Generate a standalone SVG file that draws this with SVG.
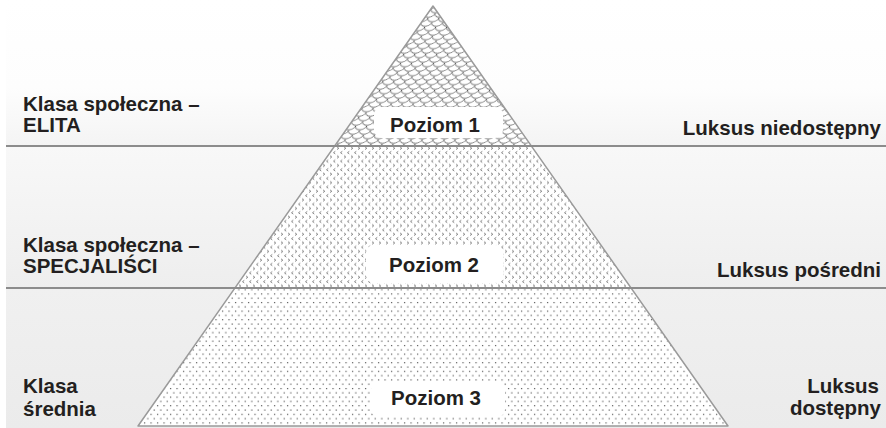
<svg xmlns="http://www.w3.org/2000/svg" width="886" height="428" viewBox="0 0 886 428">
  <defs>
    <style>
      .lbl { font-family: "Liberation Sans", Arial, sans-serif; font-weight: bold; font-size: 20.5px; fill: #231f20; }
      .end { text-anchor: end; }
      .mid { text-anchor: middle; }
      .divider { stroke: #8c8c8c; stroke-width: 2; fill: none; }
      .edge { stroke: #9a9a9a; stroke-width: 1.5; fill: none; stroke-linejoin: round; }
      .box { fill: #ffffff; }
    </style>
    <linearGradient id="band1" x1="0" y1="0" x2="0" y2="1">
      <stop offset="0" stop-color="#ffffff"/>
      <stop offset="0.6" stop-color="#fdfdfd"/>
      <stop offset="1" stop-color="#f4f4f4"/>
    </linearGradient>
    <linearGradient id="band2" x1="0" y1="0" x2="0" y2="1">
      <stop offset="0" stop-color="#f8f8f8"/>
      <stop offset="1" stop-color="#eeeeee"/>
    </linearGradient>
    <linearGradient id="band3" x1="0" y1="0" x2="0" y2="1">
      <stop offset="0" stop-color="#f0f0f0"/>
      <stop offset="1" stop-color="#ebebeb"/>
    </linearGradient>
    <!-- roof-tile scales for the top tier -->
    <pattern id="scales" width="11" height="9" patternUnits="userSpaceOnUse" patternTransform="skewX(-20)">
      <rect width="11" height="9" fill="#ffffff"/>
      <path d="M0,4.5 a5.5,3.8 0 0 0 11,0 M-5.5,9 a5.5,3.8 0 0 0 11,0 M5.5,9 a5.5,3.8 0 0 0 11,0 M-5.5,0 a5.5,3.8 0 0 0 11,0 M5.5,0 a5.5,3.8 0 0 0 11,0" fill="none" stroke="#3a3a3a" stroke-width="0.7"/>
    </pattern>
    <!-- small chevron marks for the middle tier -->
    <pattern id="chevrons" width="7" height="8.6" patternUnits="userSpaceOnUse">
      <rect width="7" height="8.6" fill="#ffffff"/>
      <path d="M1,0.8 l1.8,1.3 l-1.8,1.3 M6.3,5.1 l-1.8,1.3 l1.8,1.3" fill="none" stroke="#444444" stroke-width="0.65"/>
    </pattern>
    <!-- staggered dot grid for the bottom tier -->
    <pattern id="dots" width="6.5" height="8.6" patternUnits="userSpaceOnUse">
      <rect width="6.5" height="8.6" fill="#ffffff"/>
      <rect x="1" y="1" width="1.1" height="1.1" fill="#3a3a3a"/>
      <rect x="4.25" y="5.3" width="1.1" height="1.1" fill="#3a3a3a"/>
    </pattern>
  </defs>

  <!-- background bands -->
  <g id="bands">
    <rect x="0" y="0" width="886" height="428" fill="#ffffff"/>
    <rect x="6" y="0" width="880" height="146" fill="url(#band1)"/>
    <rect x="6" y="146" width="880" height="142" fill="url(#band2)"/>
    <rect x="6" y="288" width="880" height="140" fill="url(#band3)"/>
  </g>

  <!-- tier 1 -->
  <g id="level1">
    <polygon points="433,6 531.4,146 334.6,146" fill="url(#scales)"/>
    <rect class="box" x="374" y="107" width="129" height="31" rx="8"/>
    <text class="lbl mid" x="435" y="132">Poziom 1</text>
  </g>

  <!-- tier 2 -->
  <g id="level2">
    <polygon points="334.6,146 531.4,146 631.2,288 234.8,288" fill="url(#chevrons)"/>
    <rect class="box" x="366" y="245" width="137" height="38" rx="8"/>
    <text class="lbl mid" x="434" y="272">Poziom 2</text>
  </g>

  <!-- tier 3 -->
  <g id="level3">
    <polygon points="234.8,288 631.2,288 728,426 138,426" fill="url(#dots)"/>
    <rect class="box" x="371" y="381" width="134" height="36" rx="8"/>
    <text class="lbl mid" x="436" y="405">Poziom 3</text>
  </g>

  <!-- pyramid outline and tier dividers -->
  <g id="connectors">
    <polygon class="edge" points="433,6 728,426 138,426"/>
    <line class="divider" x1="6" y1="146" x2="886" y2="146"/>
    <line class="divider" x1="6" y1="288" x2="886" y2="288"/>
  </g>

  <g id="class-elita">
    <text class="lbl" x="23" y="111">Klasa społeczna –</text>
    <text class="lbl" x="23" y="132">ELITA</text>
  </g>
  <g id="class-specjalisci">
    <text class="lbl" x="23" y="252">Klasa społeczna –</text>
    <text class="lbl" x="23" y="273">SPECJALIŚCI</text>
  </g>
  <g id="class-srednia">
    <text class="lbl" x="23" y="393">Klasa</text>
    <text class="lbl" x="23" y="416">średnia</text>
  </g>

  <g id="luxury-1">
    <text class="lbl end" x="881" y="135">Luksus niedostępny</text>
  </g>
  <g id="luxury-2">
    <text class="lbl end" x="881" y="277">Luksus pośredni</text>
  </g>
  <g id="luxury-3">
    <text class="lbl end" x="879" y="393">Luksus</text>
    <text class="lbl end" x="881" y="415">dostępny</text>
  </g>
</svg>
